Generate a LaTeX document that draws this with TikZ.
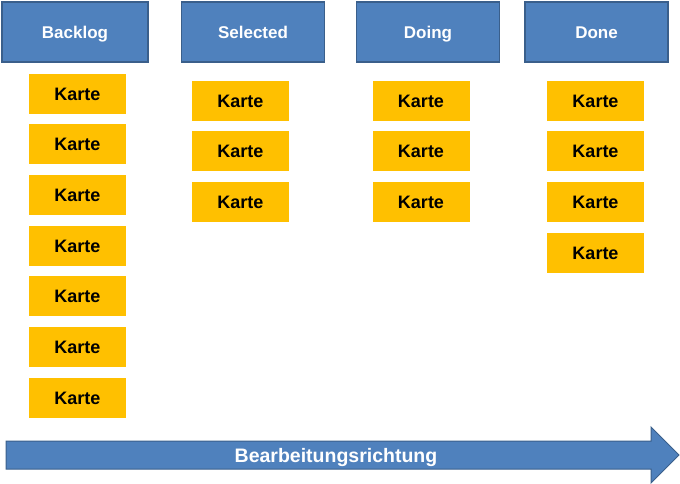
\documentclass[tikz,border=0pt]{standalone}
\usepackage{fontspec}
\setmainfont{Liberation Sans}
\definecolor{headblue}{HTML}{4F81BD}
\definecolor{headline}{HTML}{3A5F8B}
\definecolor{cardgold}{HTML}{FFC000}
\tikzstyle{head} = [draw=headline,line width=1.5pt,fill=headblue,text=white,font=\bfseries\fontsize{17}{20}\selectfont,text height=12.3pt,text depth=0pt,minimum width=143pt,minimum height=60pt,inner sep=0pt]
\tikzstyle{card} = [fill=cardgold,font=\bfseries\fontsize{18}{20}\selectfont,text height=13pt,text depth=0pt,minimum width=97pt,minimum height=40pt,inner sep=0pt]
\tikzstyle{flow} = [draw=headline,line width=1pt,fill=headblue]

\begin{document}
\begin{tikzpicture}[x=1pt,y=-1pt]
	\useasboundingbox (0,0) rectangle (680,483);
	\def \pitch {50.7}
	% column heads
	\node (backlog) at (75,32) [head,minimum width=146pt] {Backlog};
	\node (selected) at (253,32) [head] {Selected};
	\node (doing) at (428,32) [head] {Doing};
	\node (done) at (596.5,32) [head] {Done};
	% cards
	\foreach \i in {1,...,7} {
		\node (backlog-\i) at (77.5,93.5+\i*\pitch-\pitch) [card] {Karte};
	}
	\foreach \i in {1,...,3} {
		\node (selected-\i) at (240.5,100.5+\i*\pitch-\pitch) [card] {Karte};
		\node (doing-\i) at (421,100.5+\i*\pitch-\pitch) [card] {Karte};
	}
	\foreach \i in {1,...,4} {
		\node (done-\i) at (595.5,100.5+\i*\pitch-\pitch) [card] {Karte};
	}
	% direction arrow
	\draw [flow] (6,441) -- (651,441) -- (651,427) -- (679,455) -- (651,483) -- (651,469) -- (6,469) -- cycle;
	\node (richtung) at (336,456) [text=white,font=\bfseries\fontsize{19.5}{22}\selectfont,text height=13.5pt,text depth=0pt] {Bearbeitungsrichtung};
\end{tikzpicture}
\end{document}
